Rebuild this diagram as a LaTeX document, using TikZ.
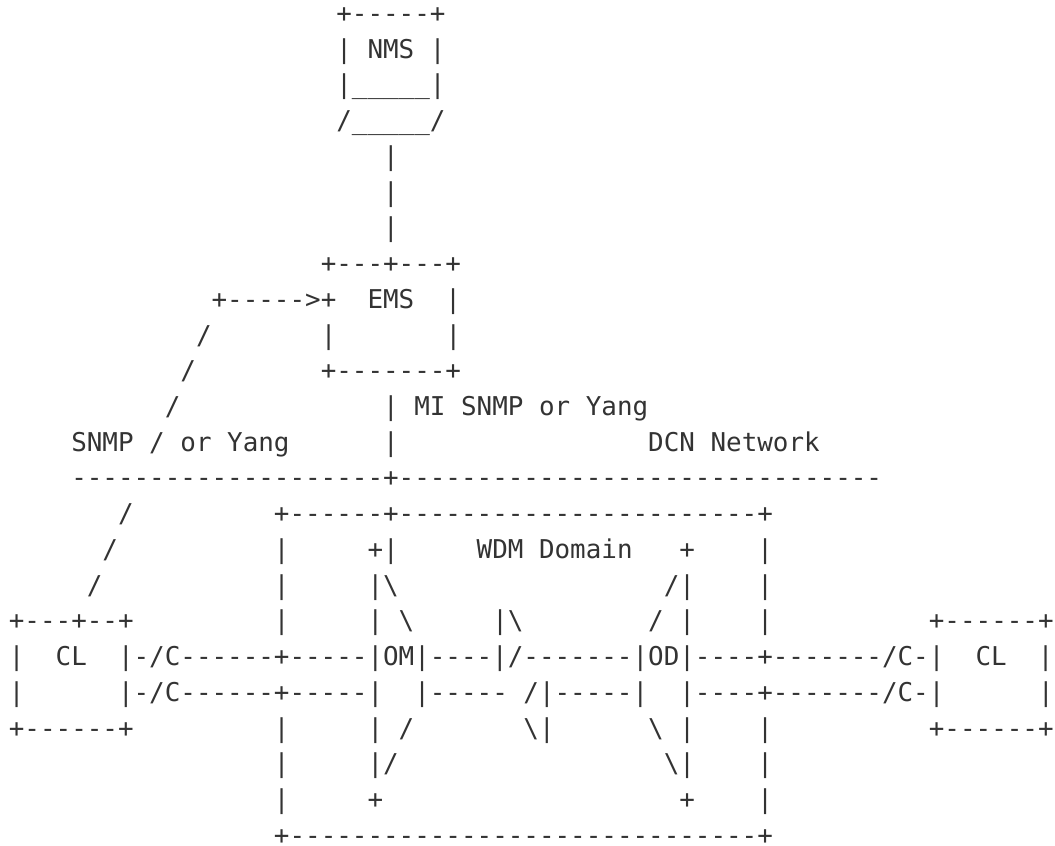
\documentclass[tikz,border=0pt]{standalone}
\usepackage{fontspec}
\newfontfamily\ascfont{DejaVu Sans Mono}
\definecolor{ink}{RGB}{51,51,51}
\tikzset{asc/.style={anchor=base west, inner sep=0pt, outer sep=0pt, text=ink,
  font=\ascfont\fontsize{25.9}{30}\selectfont}}
\newcommand\seg[4]{\node[asc] (#1) at (#2,#3) {#4};}
\newcommand\bs{\textbackslash}
\begin{document}
\begin{tikzpicture}[x=15.593pt, y=-35.73pt]
\useasboundingbox[fill=white] (0pt,0pt) rectangle (1055pt,-846pt);
\begin{scope}[shift={(8.9pt,13.23pt)}]
% NMS
\seg{nmsA}{21}{1}{+-----+}
\seg{nmsB}{21}{2}{|~NMS~|}
\seg{nmsC}{21}{3}{|\_\_\_\_\_|}
\seg{nmsD}{21}{4}{/\_\_\_\_\_/}
\seg{vA}{24}{5}{|}
\seg{vB}{24}{6}{|}
\seg{vC}{24}{7}{|}
% EMS
\seg{emsA}{20}{8}{+---+---+}
\seg{emsB}{13}{9}{+----->+~~EMS~~|}
\seg{slA}{12}{10}{/}
\seg{emsC}{20}{10}{|}
\seg{emsD}{28}{10}{|}
\seg{slB}{11}{11}{/}
\seg{emsE}{20}{11}{+-------+}
\seg{slC}{10}{12}{/}
\seg{mi}{24}{12}{|~MI~SNMP~or~Yang}
\seg{snmp}{4}{13}{SNMP~/~or~Yang}
\seg{vD}{24}{13}{|}
\seg{dcn}{41}{13}{DCN~Network}
\seg{dcnline}{4}{14}{--------------------+-------------------------------}
% WDM domain
\seg{slD}{7}{15}{/}
\seg{wdmTop}{17}{15}{+------+-----------------------+}
\seg{slE}{6}{16}{/}
\seg{wA}{17}{16}{|}
\seg{omA}{23}{16}{+|}
\seg{wdm}{30}{16}{WDM~Domain}
\seg{odA}{43}{16}{+}
\seg{wB}{48}{16}{|}
\seg{slF}{5}{17}{/}
\seg{wC}{17}{17}{|}
\seg{omB}{23}{17}{|\bs}
\seg{odB}{42}{17}{/|}
\seg{wD}{48}{17}{|}
\seg{clA}{0}{18}{+---+--+}
\seg{wE}{17}{18}{|}
\seg{omC}{23}{18}{|~\bs}
\seg{mid}{31}{18}{|\bs}
\seg{odC}{41}{18}{/~|}
\seg{wF}{48}{18}{|}
\seg{clB}{59}{18}{+------+}
\seg{lineA}{0}{19}{|~~CL~~|-/C------+-----|OM|----|/-------|OD|----+-------/C-|~~CL~~|}
\seg{lineB}{0}{20}{|~~~~~~|-/C------+-----|~~|-----~/|-----|~~|----+-------/C-|~~~~~~|}
\seg{clC}{0}{21}{+------+}
\seg{wG}{17}{21}{|}
\seg{omD}{23}{21}{|~/}
\seg{midB}{33}{21}{\bs|}
\seg{odD}{41}{21}{\bs~|}
\seg{wH}{48}{21}{|}
\seg{clD}{59}{21}{+------+}
\seg{wI}{17}{22}{|}
\seg{omE}{23}{22}{|/}
\seg{odE}{42}{22}{\bs|}
\seg{wJ}{48}{22}{|}
\seg{wK}{17}{23}{|}
\seg{omF}{23}{23}{+}
\seg{odF}{43}{23}{+}
\seg{wL}{48}{23}{|}
\seg{wdmBot}{17}{24}{+------------------------------+}
\end{scope}
\end{tikzpicture}
\end{document}
